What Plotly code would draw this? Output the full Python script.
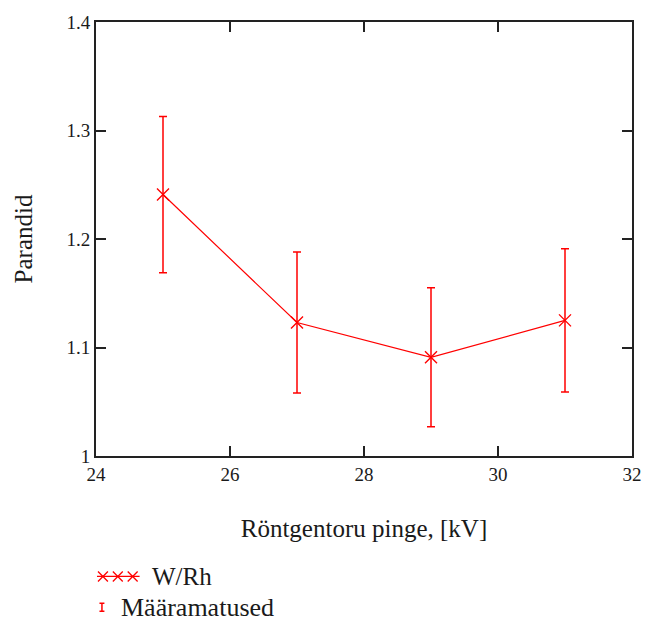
import plotly.graph_objects as go

# Data
voltage_kv = [25, 27, 29, 31]
parandid = [1.241, 1.123, 1.091, 1.125]
uncertainty = [0.072, 0.065, 0.064, 0.066]

x_ticks = [24, 26, 28, 30, 32]
y_ticks = [1.0, 1.1, 1.2, 1.3, 1.4]
y_tick_labels = ["1", "1.1", "1.2", "1.3", "1.4"]

series_name = "W/Rh"
error_name = "Määramatused"
x_title = "Röntgentoru pinge, [kV]"
y_title = "Parandid"

RED = "#ff0000"
FONT = "Liberation Serif, Times New Roman, DejaVu Serif, serif"
TXT = "#1a1a1a"

fig = go.Figure()
fig.add_trace(go.Scatter(
    x=voltage_kv, y=parandid, mode="lines+markers", name=series_name,
    line=dict(color=RED, width=1.2),
    marker=dict(symbol="x-thin-open", size=12, color=RED, line=dict(color=RED, width=1.4)),
    error_y=dict(type="data", array=uncertainty, visible=True, color=RED, thickness=1.5, width=4),
    showlegend=False,
))

# Plot area in pixels: l=96, r=637, t=20, b=456
L, R, T, B = 96, 637, 20, 456
W, H = R - L, B - T

def px(xp):
    return (xp - L) / W

def py(yp):
    return (B - yp) / H

shapes = []
# legend icon 1: line with three x markers
ly = 577
shapes.append(dict(type="line", xref="paper", yref="paper",
                   x0=px(97), x1=px(140), y0=py(ly), y1=py(ly),
                   line=dict(color=RED, width=1.2)))
for cx in [103, 118, 133]:
    d = 5
    path = (f"M {px(cx-d)},{py(ly-d)} L {px(cx+d)},{py(ly+d)} "
            f"M {px(cx-d)},{py(ly+d)} L {px(cx+d)},{py(ly-d)}")
    shapes.append(dict(type="path", xref="paper", yref="paper", path=path,
                       line=dict(color=RED, width=1.3)))
# legend icon 2: small error bar
ey = 608
cx = 102
path = (f"M {px(cx)},{py(ey-4)} L {px(cx)},{py(ey+4)} "
        f"M {px(cx-2.5)},{py(ey-4)} L {px(cx+2.5)},{py(ey-4)} "
        f"M {px(cx-2.5)},{py(ey+4)} L {px(cx+2.5)},{py(ey+4)}")
shapes.append(dict(type="path", xref="paper", yref="paper", path=path,
                   line=dict(color=RED, width=1.5)))

annotations = [
    dict(text=series_name, xref="paper", yref="paper", x=px(151), y=py(ly),
         xanchor="left", yanchor="middle", showarrow=False,
         font=dict(family=FONT, size=25, color=TXT)),
    dict(text=error_name, xref="paper", yref="paper", x=px(119), y=py(ey),
         xanchor="left", yanchor="middle", showarrow=False,
         font=dict(family=FONT, size=26, color=TXT)),
]

axis_common = dict(
    showline=True, linecolor="#222", linewidth=2, mirror="allticks",
    ticks="inside", ticklen=10, tickwidth=2, tickcolor="#222",
    showgrid=False, zeroline=False,
    tickfont=dict(family=FONT, size=19, color=TXT),
)

fig.update_layout(
    width=654, height=621,
    margin=dict(l=L, r=654 - R, t=T, b=621 - B),
    paper_bgcolor="white", plot_bgcolor="white",
    font=dict(family=FONT),
    xaxis=dict(range=[24, 32], tickvals=x_ticks, ticktext=[str(v) for v in x_ticks],
               title=dict(text=x_title, font=dict(family=FONT, size=25, color=TXT), standoff=36),
               **axis_common),
    yaxis=dict(range=[1.0, 1.4], tickvals=y_ticks, ticktext=y_tick_labels,
               title=dict(text=y_title, font=dict(family=FONT, size=25, color=TXT), standoff=27),
               **axis_common),
    shapes=shapes,
    annotations=annotations,
    showlegend=False,
)

fig.write_html("out.html")
